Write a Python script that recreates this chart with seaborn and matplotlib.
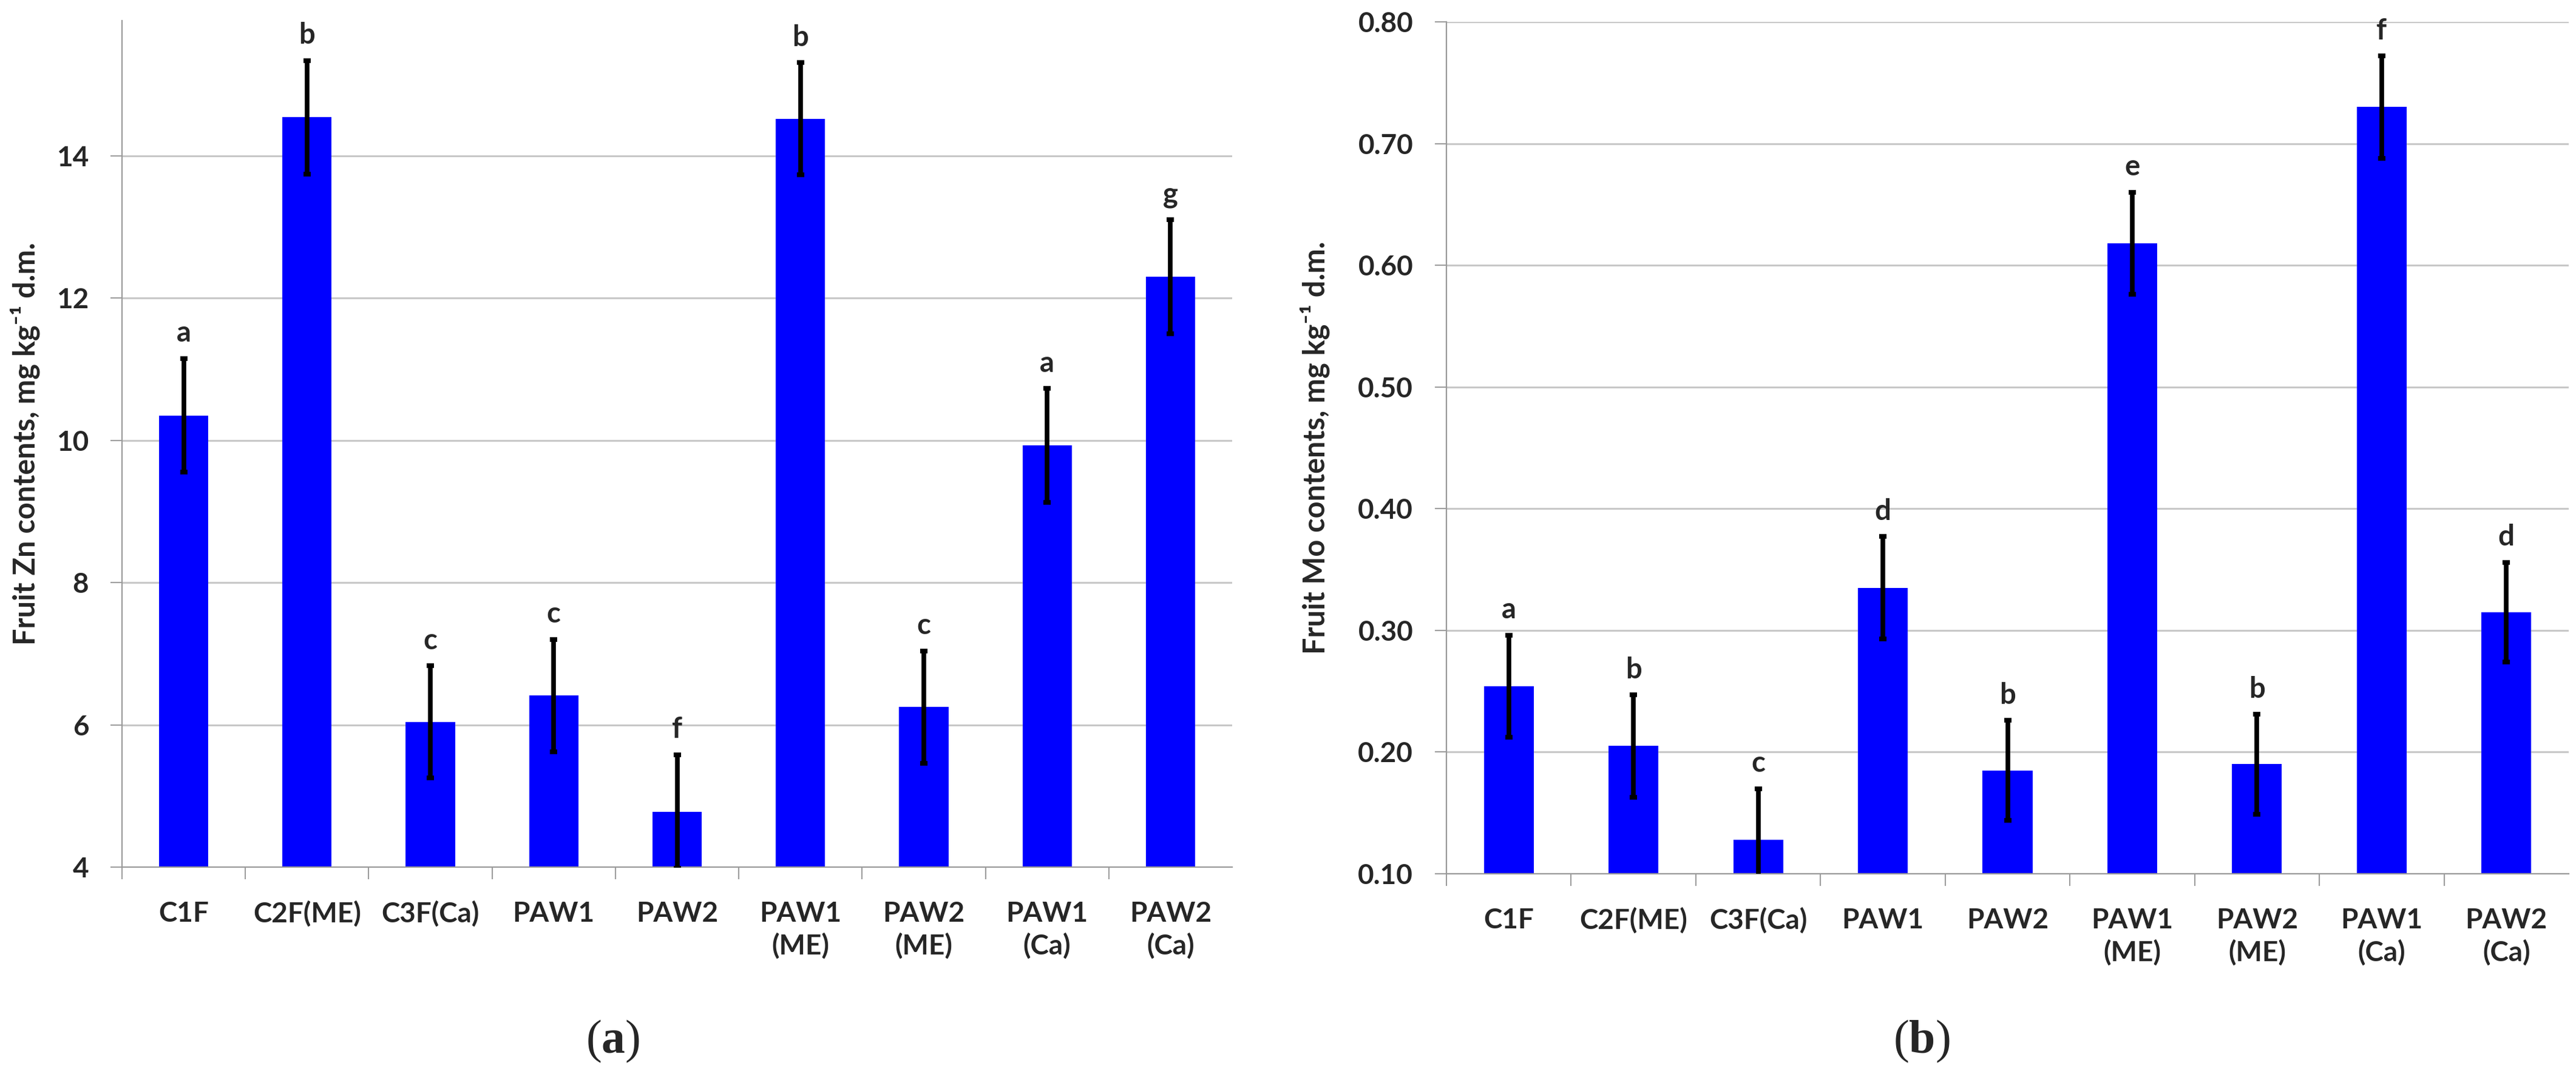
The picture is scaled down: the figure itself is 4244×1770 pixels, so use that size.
import matplotlib
matplotlib.use("Agg")
import matplotlib.pyplot as plt
import seaborn as sns
import pandas as pd
import numpy as np

# ---------------- data ----------------
categories = ["C1F", "C2F(ME)", "C3F(Ca)", "PAW1", "PAW2",
              "PAW1\n(ME)", "PAW2\n(ME)", "PAW1\n(Ca)", "PAW2\n(Ca)"]

zn_values = [10.35, 14.54, 6.04, 6.41, 4.78, 14.52, 6.25, 9.93, 12.30]
zn_errors = [0.80, 0.80, 0.79, 0.79, 0.80, 0.79, 0.79, 0.80, 0.80]
zn_letters = ["a", "b", "c", "c", "f", "b", "c", "a", "g"]
zn_ticks = [4, 6, 8, 10, 12, 14]

mo_values = [0.254, 0.205, 0.128, 0.335, 0.185, 0.618, 0.190, 0.730, 0.315]
mo_errors = [0.042, 0.042, 0.042, 0.042, 0.041, 0.042, 0.041, 0.042, 0.041]
mo_letters = ["a", "b", "c", "d", "b", "e", "b", "f", "d"]
mo_ticks = [0.10, 0.20, 0.30, 0.40, 0.50, 0.60, 0.70, 0.80]

zn_label = "Fruit Zn contents, mg kg\u207b\u00b9 d.m."
mo_label = "Fruit Mo contents, mg kg\u207b\u00b9 d.m."
panel_labels = ["a", "b"]

# ---------------- style ----------------
sns.set_style("white")
plt.rcParams["font.family"] = ["Lato", "DejaVu Sans"]
plt.rcParams["font.weight"] = "bold"
plt.rcParams["mathtext.fontset"] = "custom"
plt.rcParams["mathtext.rm"] = "Liberation Serif"
plt.rcParams["mathtext.bf"] = "Liberation Serif:bold"

BAR = "#0000FF"
GRID = "#c8c8c8"
AXC = "#9a9a9a"
W, H = 4244, 1770
fig = plt.figure(figsize=(W / 100, H / 100), dpi=100)

ax_zn = fig.add_axes([201 / W, 1 - 1429 / H, (2030 - 201) / W, (1429 - 34) / H])
ax_mo = fig.add_axes([2383 / W, 1 - 1440 / H, (4232 - 2383) / W, (1440 - 36) / H])


def draw(ax, values, errors, letters, ticks, ylim, fmt, ylabel, label_x):
    df = pd.DataFrame({"cat": categories, "val": values})
    sns.barplot(data=df, x="cat", y="val", order=categories, color=BAR,
                saturation=1, width=0.4, edgecolor="none", linewidth=0, ax=ax)
    xs = [p.get_x() + p.get_width() / 2 for p in ax.patches]
    ax.errorbar(xs, values, yerr=errors, fmt="none", ecolor="black",
                elinewidth=5.5, capsize=4, capthick=5.5, zorder=5)
    for x, v, e, lt in zip(xs, values, errors, letters):
        ax.annotate(lt, (x, v + e), xytext=(0, 14), textcoords="offset points",
                    ha="center", va="bottom", fontsize=34, fontweight="bold")
    ax.set_xlim(-0.5, len(categories) - 0.5)
    ax.set_ylim(*ylim)
    ax.set_yticks(ticks)
    ax.set_yticklabels([fmt.format(t) for t in ticks])
    ax.yaxis.grid(True, color=GRID, linewidth=2.2)
    ax.xaxis.grid(False)
    ax.set_axisbelow(True)
    for s in ["top", "right"]:
        ax.spines[s].set_visible(False)
    for s in ["left", "bottom"]:
        ax.spines[s].set_color(AXC)
        ax.spines[s].set_linewidth(1.6)
    ax.set_xlabel("")
    ax.set_ylabel(ylabel, fontsize=35, fontweight="bold")
    ax.yaxis.set_label_coords(label_x, 0.5)
    ax.tick_params(axis="y", which="major", left=True, length=13.5, width=1.4,
                   color=AXC, pad=26, labelsize=33)
    ax.tick_params(axis="x", which="major", bottom=True, length=0, pad=40,
                   labelsize=33)
    ax.set_xticks(np.arange(-0.5, len(categories) - 1), minor=True)
    ax.tick_params(axis="x", which="minor", bottom=True, length=14.5,
                   width=1.4, color=AXC)
    for t in ax.get_xticklabels():
        t.set_linespacing(1.3)
        t.set_fontweight("bold")
    for t in ax.get_yticklabels():
        t.set_fontweight("bold")


draw(ax_zn, zn_values, zn_errors, zn_letters, zn_ticks, (4, 15.9), "{:.0f}",
     zn_label, -0.074)
draw(ax_mo, mo_values, mo_errors, mo_letters, mo_ticks, (0.10, 0.80), "{:.2f}",
     mo_label, -0.104)

for lbl, xf in zip(panel_labels, [1010 / W, 3166 / W]):
    fig.text(xf, 1 - 1716 / H, "($\\mathbf{" + lbl + "}$)", ha="center",
             va="center", fontsize=56, family="Liberation Serif",
             fontweight="normal")

fig.savefig("out.png", dpi=100, facecolor="white")
